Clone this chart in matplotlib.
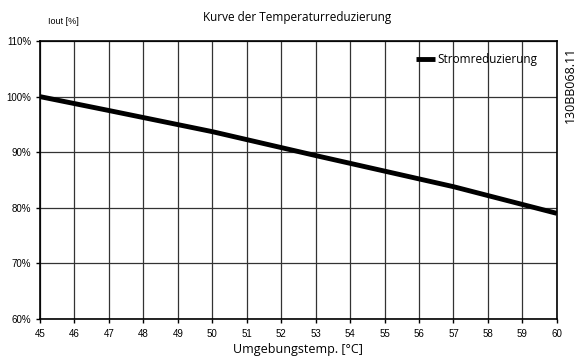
import matplotlib.pyplot as plt

# derating curve: ambient temperature [°C] vs output current [%]
temp = [45, 47, 50, 53, 55, 57, 60]
current = [100, 97.5, 93.7, 89.4, 86.6, 83.8, 79]

x_ticks = list(range(45, 61))
y_ticks = [60, 70, 80, 90, 100, 110]

fig = plt.figure(figsize=(5.82, 3.6), dpi=100)
ax = fig.add_axes([0.0687, 0.114, 0.888, 0.772])

ax.plot(temp, current, color="black", linewidth=3.5, solid_capstyle="butt",
        label="Stromreduzierung")

ax.set_xlim(45, 60)
ax.set_ylim(60, 110)
ax.set_xticks(x_ticks)
ax.set_yticks(y_ticks)
ax.set_yticklabels([f"{v}%" for v in y_ticks])
ax.grid(True, color="#333333", linewidth=0.9)
for s in ax.spines.values():
    s.set_linewidth(1.2)
ax.tick_params(axis="both", labelsize=7, length=3, width=1)
ax.tick_params(axis="x", pad=4)
for lbl in ax.get_xticklabels() + ax.get_yticklabels():
    lbl.set_family("Liberation Sans")

ax.set_xlabel("Umgebungstemp. [°C]", fontsize=9, family="Open Sans", labelpad=3)

fig.text(0.083, 0.94, "Iout [%]", fontsize=6.5, family="Liberation Sans", va="center")
fig.text(0.51, 0.95, "Kurve der Temperaturreduzierung", fontsize=8.5,
         family="Open Sans", ha="center", va="center")
fig.text(0.98, 0.765, "130BB068.11", fontsize=9, family="Open Sans", rotation=90,
         ha="center", va="center")

leg = ax.legend(loc="upper right", bbox_to_anchor=(0.978, 0.985), frameon=False,
                handlelength=1.6, handletextpad=0.2, borderpad=0.2,
                prop={"family": "Open Sans", "size": 8.5})

fig.savefig("out.png", dpi=100)
